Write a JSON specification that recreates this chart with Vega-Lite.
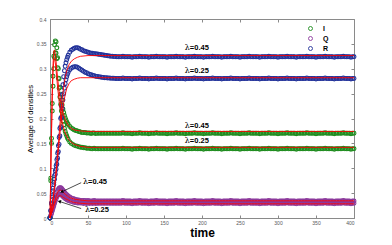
{
"$schema": "https://vega.github.io/schema/vega-lite/v6.json",
"width": 304, "height": 199,
"autosize": "none",
"padding": {"left": 50, "top": 19, "right": 38, "bottom": 27},
"background": "white",
"config": {
  "font": "Liberation Sans",
  "view": {"stroke": "#8a8a8a", "strokeWidth": 1},
  "axis": {"grid": false, "domainColor": "#8a8a8a", "tickColor": "#8a8a8a", "labelColor": "#555555", "labelFontSize": 5, "tickSize": -3, "labelPadding": 5, "titleColor": "#000000"}
},
"datasets": {
"obs": [
{"s":"Q","l":0.45,"t":0,"v":0},{"s":"Q","l":0.45,"t":1,"v":0.005},{"s":"Q","l":0.45,"t":2,"v":0.01},{"s":"Q","l":0.45,"t":3,"v":0.016},{"s":"Q","l":0.45,"t":4,"v":0.022},{"s":"Q","l":0.45,"t":5,"v":0.028},{"s":"Q","l":0.45,"t":6,"v":0.034},{"s":"Q","l":0.45,"t":7,"v":0.04},{"s":"Q","l":0.45,"t":8,"v":0.046},{"s":"Q","l":0.45,"t":9,"v":0.051},{"s":"Q","l":0.45,"t":10,"v":0.055},{"s":"Q","l":0.45,"t":11,"v":0.058},{"s":"Q","l":0.45,"t":12,"v":0.06},{"s":"Q","l":0.45,"t":13,"v":0.061},{"s":"Q","l":0.45,"t":14,"v":0.061},{"s":"Q","l":0.45,"t":15,"v":0.06},{"s":"Q","l":0.45,"t":16,"v":0.058},{"s":"Q","l":0.45,"t":17,"v":0.056},{"s":"Q","l":0.45,"t":18,"v":0.054},{"s":"Q","l":0.45,"t":19,"v":0.052},{"s":"Q","l":0.45,"t":20,"v":0.05},{"s":"Q","l":0.45,"t":21,"v":0.048},{"s":"Q","l":0.45,"t":22,"v":0.047},{"s":"Q","l":0.45,"t":23,"v":0.045},{"s":"Q","l":0.45,"t":24,"v":0.044},{"s":"Q","l":0.45,"t":26,"v":0.042},{"s":"Q","l":0.45,"t":28,"v":0.04},{"s":"Q","l":0.45,"t":30,"v":0.039},{"s":"Q","l":0.45,"t":32,"v":0.038},{"s":"Q","l":0.45,"t":34,"v":0.037},{"s":"Q","l":0.45,"t":36,"v":0.036},{"s":"Q","l":0.45,"t":38,"v":0.036},{"s":"Q","l":0.45,"t":40,"v":0.035},{"s":"Q","l":0.45,"t":42,"v":0.035},{"s":"Q","l":0.45,"t":44,"v":0.035},{"s":"Q","l":0.45,"t":46,"v":0.035},{"s":"Q","l":0.45,"t":48,"v":0.034},{"s":"Q","l":0.45,"t":50,"v":0.035},{"s":"Q","l":0.45,"t":52,"v":0.034},{"s":"Q","l":0.45,"t":54,"v":0.034},{"s":"Q","l":0.45,"t":56,"v":0.034},{"s":"Q","l":0.45,"t":58,"v":0.035},{"s":"Q","l":0.45,"t":60,"v":0.034},
{"s":"Q","l":0.45,"t":62,"v":0.034},{"s":"Q","l":0.45,"t":64,"v":0.034},{"s":"Q","l":0.45,"t":66,"v":0.034},{"s":"Q","l":0.45,"t":68,"v":0.034},{"s":"Q","l":0.45,"t":70,"v":0.034},{"s":"Q","l":0.45,"t":72,"v":0.034},{"s":"Q","l":0.45,"t":74,"v":0.034},{"s":"Q","l":0.45,"t":76,"v":0.034},{"s":"Q","l":0.45,"t":78,"v":0.034},{"s":"Q","l":0.45,"t":80,"v":0.034},
{"s":"Q","l":0.45,"t":82,"v":0.034},{"s":"Q","l":0.45,"t":84,"v":0.034},{"s":"Q","l":0.45,"t":86,"v":0.034},{"s":"Q","l":0.45,"t":88,"v":0.034},{"s":"Q","l":0.45,"t":90,"v":0.034},{"s":"Q","l":0.45,"t":92,"v":0.034},{"s":"Q","l":0.45,"t":94,"v":0.034},{"s":"Q","l":0.45,"t":96,"v":0.035},{"s":"Q","l":0.45,"t":98,"v":0.034},{"s":"Q","l":0.45,"t":100,"v":0.034},
{"s":"Q","l":0.45,"t":102,"v":0.034},{"s":"Q","l":0.45,"t":104,"v":0.034},{"s":"Q","l":0.45,"t":106,"v":0.034},{"s":"Q","l":0.45,"t":108,"v":0.033},{"s":"Q","l":0.45,"t":110,"v":0.034},{"s":"Q","l":0.45,"t":112,"v":0.034},{"s":"Q","l":0.45,"t":114,"v":0.034},{"s":"Q","l":0.45,"t":116,"v":0.034},{"s":"Q","l":0.45,"t":118,"v":0.035},{"s":"Q","l":0.45,"t":120,"v":0.034},
{"s":"Q","l":0.45,"t":122,"v":0.034},{"s":"Q","l":0.45,"t":124,"v":0.034},{"s":"Q","l":0.45,"t":126,"v":0.034},{"s":"Q","l":0.45,"t":128,"v":0.034},{"s":"Q","l":0.45,"t":130,"v":0.033},{"s":"Q","l":0.45,"t":132,"v":0.034},{"s":"Q","l":0.45,"t":134,"v":0.034},{"s":"Q","l":0.45,"t":136,"v":0.034},{"s":"Q","l":0.45,"t":138,"v":0.034},{"s":"Q","l":0.45,"t":140,"v":0.035},
{"s":"Q","l":0.45,"t":142,"v":0.034},{"s":"Q","l":0.45,"t":144,"v":0.034},{"s":"Q","l":0.45,"t":146,"v":0.034},{"s":"Q","l":0.45,"t":148,"v":0.034},{"s":"Q","l":0.45,"t":150,"v":0.034},{"s":"Q","l":0.45,"t":152,"v":0.034},{"s":"Q","l":0.45,"t":154,"v":0.033},{"s":"Q","l":0.45,"t":156,"v":0.034},{"s":"Q","l":0.45,"t":158,"v":0.034},{"s":"Q","l":0.45,"t":160,"v":0.034},
{"s":"Q","l":0.45,"t":162,"v":0.034},{"s":"Q","l":0.45,"t":164,"v":0.034},{"s":"Q","l":0.45,"t":166,"v":0.035},{"s":"Q","l":0.45,"t":168,"v":0.034},{"s":"Q","l":0.45,"t":170,"v":0.034},{"s":"Q","l":0.45,"t":172,"v":0.034},{"s":"Q","l":0.45,"t":174,"v":0.034},{"s":"Q","l":0.45,"t":176,"v":0.034},{"s":"Q","l":0.45,"t":178,"v":0.033},{"s":"Q","l":0.45,"t":180,"v":0.034},
{"s":"Q","l":0.45,"t":182,"v":0.034},{"s":"Q","l":0.45,"t":184,"v":0.034},{"s":"Q","l":0.45,"t":186,"v":0.034},{"s":"Q","l":0.45,"t":188,"v":0.034},{"s":"Q","l":0.45,"t":190,"v":0.035},{"s":"Q","l":0.45,"t":192,"v":0.034},{"s":"Q","l":0.45,"t":194,"v":0.034},{"s":"Q","l":0.45,"t":196,"v":0.034},{"s":"Q","l":0.45,"t":198,"v":0.034},{"s":"Q","l":0.45,"t":200,"v":0.034},
{"s":"Q","l":0.45,"t":202,"v":0.033},{"s":"Q","l":0.45,"t":204,"v":0.034},{"s":"Q","l":0.45,"t":206,"v":0.034},{"s":"Q","l":0.45,"t":208,"v":0.034},{"s":"Q","l":0.45,"t":210,"v":0.034},{"s":"Q","l":0.45,"t":212,"v":0.034},{"s":"Q","l":0.45,"t":214,"v":0.035},{"s":"Q","l":0.45,"t":216,"v":0.034},{"s":"Q","l":0.45,"t":218,"v":0.034},{"s":"Q","l":0.45,"t":220,"v":0.034},
{"s":"Q","l":0.45,"t":222,"v":0.034},{"s":"Q","l":0.45,"t":224,"v":0.034},{"s":"Q","l":0.45,"t":226,"v":0.033},{"s":"Q","l":0.45,"t":228,"v":0.034},{"s":"Q","l":0.45,"t":230,"v":0.034},{"s":"Q","l":0.45,"t":232,"v":0.034},{"s":"Q","l":0.45,"t":234,"v":0.034},{"s":"Q","l":0.45,"t":236,"v":0.034},{"s":"Q","l":0.45,"t":238,"v":0.035},{"s":"Q","l":0.45,"t":240,"v":0.034},
{"s":"Q","l":0.45,"t":242,"v":0.034},{"s":"Q","l":0.45,"t":244,"v":0.034},{"s":"Q","l":0.45,"t":246,"v":0.034},{"s":"Q","l":0.45,"t":248,"v":0.034},{"s":"Q","l":0.45,"t":250,"v":0.033},{"s":"Q","l":0.45,"t":252,"v":0.034},{"s":"Q","l":0.45,"t":254,"v":0.034},{"s":"Q","l":0.45,"t":256,"v":0.034},{"s":"Q","l":0.45,"t":258,"v":0.034},{"s":"Q","l":0.45,"t":260,"v":0.034},
{"s":"Q","l":0.45,"t":262,"v":0.035},{"s":"Q","l":0.45,"t":264,"v":0.034},{"s":"Q","l":0.45,"t":266,"v":0.034},{"s":"Q","l":0.45,"t":268,"v":0.034},{"s":"Q","l":0.45,"t":270,"v":0.034},{"s":"Q","l":0.45,"t":272,"v":0.034},{"s":"Q","l":0.45,"t":274,"v":0.034},{"s":"Q","l":0.45,"t":276,"v":0.033},{"s":"Q","l":0.45,"t":278,"v":0.034},{"s":"Q","l":0.45,"t":280,"v":0.034},
{"s":"Q","l":0.45,"t":282,"v":0.034},{"s":"Q","l":0.45,"t":284,"v":0.034},{"s":"Q","l":0.45,"t":286,"v":0.034},{"s":"Q","l":0.45,"t":288,"v":0.035},{"s":"Q","l":0.45,"t":290,"v":0.034},{"s":"Q","l":0.45,"t":292,"v":0.034},{"s":"Q","l":0.45,"t":294,"v":0.034},{"s":"Q","l":0.45,"t":296,"v":0.034},{"s":"Q","l":0.45,"t":298,"v":0.034},{"s":"Q","l":0.45,"t":300,"v":0.033},
{"s":"Q","l":0.45,"t":302,"v":0.034},{"s":"Q","l":0.45,"t":304,"v":0.034},{"s":"Q","l":0.45,"t":306,"v":0.034},{"s":"Q","l":0.45,"t":308,"v":0.034},{"s":"Q","l":0.45,"t":310,"v":0.034},{"s":"Q","l":0.45,"t":312,"v":0.035},{"s":"Q","l":0.45,"t":314,"v":0.034},{"s":"Q","l":0.45,"t":316,"v":0.034},{"s":"Q","l":0.45,"t":318,"v":0.034},{"s":"Q","l":0.45,"t":320,"v":0.034},
{"s":"Q","l":0.45,"t":322,"v":0.034},{"s":"Q","l":0.45,"t":324,"v":0.033},{"s":"Q","l":0.45,"t":326,"v":0.034},{"s":"Q","l":0.45,"t":328,"v":0.034},{"s":"Q","l":0.45,"t":330,"v":0.034},{"s":"Q","l":0.45,"t":332,"v":0.034},{"s":"Q","l":0.45,"t":334,"v":0.034},{"s":"Q","l":0.45,"t":336,"v":0.034},{"s":"Q","l":0.45,"t":338,"v":0.035},{"s":"Q","l":0.45,"t":340,"v":0.034},
{"s":"Q","l":0.45,"t":342,"v":0.034},{"s":"Q","l":0.45,"t":344,"v":0.034},{"s":"Q","l":0.45,"t":346,"v":0.034},{"s":"Q","l":0.45,"t":348,"v":0.034},{"s":"Q","l":0.45,"t":350,"v":0.033},{"s":"Q","l":0.45,"t":352,"v":0.034},{"s":"Q","l":0.45,"t":354,"v":0.034},{"s":"Q","l":0.45,"t":356,"v":0.034},{"s":"Q","l":0.45,"t":358,"v":0.034},{"s":"Q","l":0.45,"t":360,"v":0.034},
{"s":"Q","l":0.45,"t":362,"v":0.035},{"s":"Q","l":0.45,"t":364,"v":0.034},{"s":"Q","l":0.45,"t":366,"v":0.034},{"s":"Q","l":0.45,"t":368,"v":0.034},{"s":"Q","l":0.45,"t":370,"v":0.034},{"s":"Q","l":0.45,"t":372,"v":0.034},{"s":"Q","l":0.45,"t":374,"v":0.033},{"s":"Q","l":0.45,"t":376,"v":0.034},{"s":"Q","l":0.45,"t":378,"v":0.034},{"s":"Q","l":0.45,"t":380,"v":0.034},
{"s":"Q","l":0.45,"t":382,"v":0.034},{"s":"Q","l":0.45,"t":384,"v":0.034},{"s":"Q","l":0.45,"t":386,"v":0.035},{"s":"Q","l":0.45,"t":388,"v":0.034},{"s":"Q","l":0.45,"t":390,"v":0.034},{"s":"Q","l":0.45,"t":392,"v":0.034},{"s":"Q","l":0.45,"t":394,"v":0.034},{"s":"Q","l":0.45,"t":396,"v":0.033},{"s":"Q","l":0.45,"t":398,"v":0.034},{"s":"Q","l":0.45,"t":400,"v":0.034},
{"s":"Q","l":0.25,"t":0,"v":0},{"s":"Q","l":0.25,"t":1,"v":0.004},{"s":"Q","l":0.25,"t":2,"v":0.009},{"s":"Q","l":0.25,"t":3,"v":0.014},{"s":"Q","l":0.25,"t":4,"v":0.019},{"s":"Q","l":0.25,"t":5,"v":0.024},{"s":"Q","l":0.25,"t":6,"v":0.029},{"s":"Q","l":0.25,"t":7,"v":0.034},{"s":"Q","l":0.25,"t":8,"v":0.038},{"s":"Q","l":0.25,"t":9,"v":0.042},{"s":"Q","l":0.25,"t":10,"v":0.045},{"s":"Q","l":0.25,"t":11,"v":0.047},{"s":"Q","l":0.25,"t":12,"v":0.048},{"s":"Q","l":0.25,"t":13,"v":0.048},{"s":"Q","l":0.25,"t":14,"v":0.047},{"s":"Q","l":0.25,"t":15,"v":0.046},{"s":"Q","l":0.25,"t":16,"v":0.045},{"s":"Q","l":0.25,"t":17,"v":0.043},{"s":"Q","l":0.25,"t":18,"v":0.042},{"s":"Q","l":0.25,"t":19,"v":0.04},{"s":"Q","l":0.25,"t":20,"v":0.039},{"s":"Q","l":0.25,"t":21,"v":0.038},{"s":"Q","l":0.25,"t":22,"v":0.037},{"s":"Q","l":0.25,"t":23,"v":0.036},{"s":"Q","l":0.25,"t":24,"v":0.035},{"s":"Q","l":0.25,"t":26,"v":0.034},{"s":"Q","l":0.25,"t":28,"v":0.033},{"s":"Q","l":0.25,"t":30,"v":0.032},{"s":"Q","l":0.25,"t":32,"v":0.031},{"s":"Q","l":0.25,"t":34,"v":0.031},{"s":"Q","l":0.25,"t":36,"v":0.03},{"s":"Q","l":0.25,"t":38,"v":0.03},{"s":"Q","l":0.25,"t":40,"v":0.03},{"s":"Q","l":0.25,"t":42,"v":0.03},{"s":"Q","l":0.25,"t":44,"v":0.029},{"s":"Q","l":0.25,"t":46,"v":0.03},{"s":"Q","l":0.25,"t":48,"v":0.029},{"s":"Q","l":0.25,"t":50,"v":0.03},{"s":"Q","l":0.25,"t":52,"v":0.029},{"s":"Q","l":0.25,"t":54,"v":0.03},{"s":"Q","l":0.25,"t":56,"v":0.029},{"s":"Q","l":0.25,"t":58,"v":0.03},{"s":"Q","l":0.25,"t":60,"v":0.029},
{"s":"Q","l":0.25,"t":62,"v":0.0295},{"s":"Q","l":0.25,"t":64,"v":0.0295},{"s":"Q","l":0.25,"t":66,"v":0.0295},{"s":"Q","l":0.25,"t":68,"v":0.0295},{"s":"Q","l":0.25,"t":70,"v":0.0295},{"s":"Q","l":0.25,"t":72,"v":0.0295},{"s":"Q","l":0.25,"t":74,"v":0.0295},{"s":"Q","l":0.25,"t":76,"v":0.0295},{"s":"Q","l":0.25,"t":78,"v":0.0295},{"s":"Q","l":0.25,"t":80,"v":0.0295},
{"s":"Q","l":0.25,"t":82,"v":0.0295},{"s":"Q","l":0.25,"t":84,"v":0.0295},{"s":"Q","l":0.25,"t":86,"v":0.0295},{"s":"Q","l":0.25,"t":88,"v":0.0295},{"s":"Q","l":0.25,"t":90,"v":0.0295},{"s":"Q","l":0.25,"t":92,"v":0.0295},{"s":"Q","l":0.25,"t":94,"v":0.0295},{"s":"Q","l":0.25,"t":96,"v":0.0305},{"s":"Q","l":0.25,"t":98,"v":0.0295},{"s":"Q","l":0.25,"t":100,"v":0.0295},
{"s":"Q","l":0.25,"t":102,"v":0.0295},{"s":"Q","l":0.25,"t":104,"v":0.0295},{"s":"Q","l":0.25,"t":106,"v":0.0295},{"s":"Q","l":0.25,"t":108,"v":0.0285},{"s":"Q","l":0.25,"t":110,"v":0.0295},{"s":"Q","l":0.25,"t":112,"v":0.0295},{"s":"Q","l":0.25,"t":114,"v":0.0295},{"s":"Q","l":0.25,"t":116,"v":0.0295},{"s":"Q","l":0.25,"t":118,"v":0.0305},{"s":"Q","l":0.25,"t":120,"v":0.0295},
{"s":"Q","l":0.25,"t":122,"v":0.0295},{"s":"Q","l":0.25,"t":124,"v":0.0295},{"s":"Q","l":0.25,"t":126,"v":0.0295},{"s":"Q","l":0.25,"t":128,"v":0.0295},{"s":"Q","l":0.25,"t":130,"v":0.0285},{"s":"Q","l":0.25,"t":132,"v":0.0295},{"s":"Q","l":0.25,"t":134,"v":0.0295},{"s":"Q","l":0.25,"t":136,"v":0.0295},{"s":"Q","l":0.25,"t":138,"v":0.0295},{"s":"Q","l":0.25,"t":140,"v":0.0305},
{"s":"Q","l":0.25,"t":142,"v":0.0295},{"s":"Q","l":0.25,"t":144,"v":0.0295},{"s":"Q","l":0.25,"t":146,"v":0.0295},{"s":"Q","l":0.25,"t":148,"v":0.0295},{"s":"Q","l":0.25,"t":150,"v":0.0295},{"s":"Q","l":0.25,"t":152,"v":0.0295},{"s":"Q","l":0.25,"t":154,"v":0.0285},{"s":"Q","l":0.25,"t":156,"v":0.0295},{"s":"Q","l":0.25,"t":158,"v":0.0295},{"s":"Q","l":0.25,"t":160,"v":0.0295},
{"s":"Q","l":0.25,"t":162,"v":0.0295},{"s":"Q","l":0.25,"t":164,"v":0.0295},{"s":"Q","l":0.25,"t":166,"v":0.0305},{"s":"Q","l":0.25,"t":168,"v":0.0295},{"s":"Q","l":0.25,"t":170,"v":0.0295},{"s":"Q","l":0.25,"t":172,"v":0.0295},{"s":"Q","l":0.25,"t":174,"v":0.0295},{"s":"Q","l":0.25,"t":176,"v":0.0295},{"s":"Q","l":0.25,"t":178,"v":0.0285},{"s":"Q","l":0.25,"t":180,"v":0.0295},
{"s":"Q","l":0.25,"t":182,"v":0.0295},{"s":"Q","l":0.25,"t":184,"v":0.0295},{"s":"Q","l":0.25,"t":186,"v":0.0295},{"s":"Q","l":0.25,"t":188,"v":0.0295},{"s":"Q","l":0.25,"t":190,"v":0.0305},{"s":"Q","l":0.25,"t":192,"v":0.0295},{"s":"Q","l":0.25,"t":194,"v":0.0295},{"s":"Q","l":0.25,"t":196,"v":0.0295},{"s":"Q","l":0.25,"t":198,"v":0.0295},{"s":"Q","l":0.25,"t":200,"v":0.0295},
{"s":"Q","l":0.25,"t":202,"v":0.0285},{"s":"Q","l":0.25,"t":204,"v":0.0295},{"s":"Q","l":0.25,"t":206,"v":0.0295},{"s":"Q","l":0.25,"t":208,"v":0.0295},{"s":"Q","l":0.25,"t":210,"v":0.0295},{"s":"Q","l":0.25,"t":212,"v":0.0295},{"s":"Q","l":0.25,"t":214,"v":0.0305},{"s":"Q","l":0.25,"t":216,"v":0.0295},{"s":"Q","l":0.25,"t":218,"v":0.0295},{"s":"Q","l":0.25,"t":220,"v":0.0295},
{"s":"Q","l":0.25,"t":222,"v":0.0295},{"s":"Q","l":0.25,"t":224,"v":0.0295},{"s":"Q","l":0.25,"t":226,"v":0.0285},{"s":"Q","l":0.25,"t":228,"v":0.0295},{"s":"Q","l":0.25,"t":230,"v":0.0295},{"s":"Q","l":0.25,"t":232,"v":0.0295},{"s":"Q","l":0.25,"t":234,"v":0.0295},{"s":"Q","l":0.25,"t":236,"v":0.0295},{"s":"Q","l":0.25,"t":238,"v":0.0305},{"s":"Q","l":0.25,"t":240,"v":0.0295},
{"s":"Q","l":0.25,"t":242,"v":0.0295},{"s":"Q","l":0.25,"t":244,"v":0.0295},{"s":"Q","l":0.25,"t":246,"v":0.0295},{"s":"Q","l":0.25,"t":248,"v":0.0295},{"s":"Q","l":0.25,"t":250,"v":0.0285},{"s":"Q","l":0.25,"t":252,"v":0.0295},{"s":"Q","l":0.25,"t":254,"v":0.0295},{"s":"Q","l":0.25,"t":256,"v":0.0295},{"s":"Q","l":0.25,"t":258,"v":0.0295},{"s":"Q","l":0.25,"t":260,"v":0.0295},
{"s":"Q","l":0.25,"t":262,"v":0.0305},{"s":"Q","l":0.25,"t":264,"v":0.0295},{"s":"Q","l":0.25,"t":266,"v":0.0295},{"s":"Q","l":0.25,"t":268,"v":0.0295},{"s":"Q","l":0.25,"t":270,"v":0.0295},{"s":"Q","l":0.25,"t":272,"v":0.0295},{"s":"Q","l":0.25,"t":274,"v":0.0295},{"s":"Q","l":0.25,"t":276,"v":0.0285},{"s":"Q","l":0.25,"t":278,"v":0.0295},{"s":"Q","l":0.25,"t":280,"v":0.0295},
{"s":"Q","l":0.25,"t":282,"v":0.0295},{"s":"Q","l":0.25,"t":284,"v":0.0295},{"s":"Q","l":0.25,"t":286,"v":0.0295},{"s":"Q","l":0.25,"t":288,"v":0.0305},{"s":"Q","l":0.25,"t":290,"v":0.0295},{"s":"Q","l":0.25,"t":292,"v":0.0295},{"s":"Q","l":0.25,"t":294,"v":0.0295},{"s":"Q","l":0.25,"t":296,"v":0.0295},{"s":"Q","l":0.25,"t":298,"v":0.0295},{"s":"Q","l":0.25,"t":300,"v":0.0285},
{"s":"Q","l":0.25,"t":302,"v":0.0295},{"s":"Q","l":0.25,"t":304,"v":0.0295},{"s":"Q","l":0.25,"t":306,"v":0.0295},{"s":"Q","l":0.25,"t":308,"v":0.0295},{"s":"Q","l":0.25,"t":310,"v":0.0295},{"s":"Q","l":0.25,"t":312,"v":0.0305},{"s":"Q","l":0.25,"t":314,"v":0.0295},{"s":"Q","l":0.25,"t":316,"v":0.0295},{"s":"Q","l":0.25,"t":318,"v":0.0295},{"s":"Q","l":0.25,"t":320,"v":0.0295},
{"s":"Q","l":0.25,"t":322,"v":0.0295},{"s":"Q","l":0.25,"t":324,"v":0.0285},{"s":"Q","l":0.25,"t":326,"v":0.0295},{"s":"Q","l":0.25,"t":328,"v":0.0295},{"s":"Q","l":0.25,"t":330,"v":0.0295},{"s":"Q","l":0.25,"t":332,"v":0.0295},{"s":"Q","l":0.25,"t":334,"v":0.0295},{"s":"Q","l":0.25,"t":336,"v":0.0295},{"s":"Q","l":0.25,"t":338,"v":0.0305},{"s":"Q","l":0.25,"t":340,"v":0.0295},
{"s":"Q","l":0.25,"t":342,"v":0.0295},{"s":"Q","l":0.25,"t":344,"v":0.0295},{"s":"Q","l":0.25,"t":346,"v":0.0295},{"s":"Q","l":0.25,"t":348,"v":0.0295},{"s":"Q","l":0.25,"t":350,"v":0.0285},{"s":"Q","l":0.25,"t":352,"v":0.0295},{"s":"Q","l":0.25,"t":354,"v":0.0295},{"s":"Q","l":0.25,"t":356,"v":0.0295},{"s":"Q","l":0.25,"t":358,"v":0.0295},{"s":"Q","l":0.25,"t":360,"v":0.0295},
{"s":"Q","l":0.25,"t":362,"v":0.0305},{"s":"Q","l":0.25,"t":364,"v":0.0295},{"s":"Q","l":0.25,"t":366,"v":0.0295},{"s":"Q","l":0.25,"t":368,"v":0.0295},{"s":"Q","l":0.25,"t":370,"v":0.0295},{"s":"Q","l":0.25,"t":372,"v":0.0295},{"s":"Q","l":0.25,"t":374,"v":0.0285},{"s":"Q","l":0.25,"t":376,"v":0.0295},{"s":"Q","l":0.25,"t":378,"v":0.0295},{"s":"Q","l":0.25,"t":380,"v":0.0295},
{"s":"Q","l":0.25,"t":382,"v":0.0295},{"s":"Q","l":0.25,"t":384,"v":0.0295},{"s":"Q","l":0.25,"t":386,"v":0.0305},{"s":"Q","l":0.25,"t":388,"v":0.0295},{"s":"Q","l":0.25,"t":390,"v":0.0295},{"s":"Q","l":0.25,"t":392,"v":0.0295},{"s":"Q","l":0.25,"t":394,"v":0.0295},{"s":"Q","l":0.25,"t":396,"v":0.0285},{"s":"Q","l":0.25,"t":398,"v":0.0295},{"s":"Q","l":0.25,"t":400,"v":0.0295},
{"s":"I","l":0.45,"t":0,"v":0},{"s":"I","l":0.45,"t":1,"v":0.08},{"s":"I","l":0.45,"t":2,"v":0.16},{"s":"I","l":0.45,"t":3,"v":0.23},{"s":"I","l":0.45,"t":4,"v":0.285},{"s":"I","l":0.45,"t":5,"v":0.325},{"s":"I","l":0.45,"t":6,"v":0.348},{"s":"I","l":0.45,"t":7,"v":0.356},{"s":"I","l":0.45,"t":8,"v":0.354},{"s":"I","l":0.45,"t":9,"v":0.342},{"s":"I","l":0.45,"t":10,"v":0.322},{"s":"I","l":0.45,"t":11,"v":0.3},{"s":"I","l":0.45,"t":12,"v":0.28},{"s":"I","l":0.45,"t":13,"v":0.263},{"s":"I","l":0.45,"t":14,"v":0.249},{"s":"I","l":0.45,"t":15,"v":0.237},{"s":"I","l":0.45,"t":16,"v":0.227},{"s":"I","l":0.45,"t":17,"v":0.219},{"s":"I","l":0.45,"t":18,"v":0.212},{"s":"I","l":0.45,"t":19,"v":0.206},{"s":"I","l":0.45,"t":20,"v":0.201},{"s":"I","l":0.45,"t":21,"v":0.197},{"s":"I","l":0.45,"t":22,"v":0.193},{"s":"I","l":0.45,"t":23,"v":0.19},{"s":"I","l":0.45,"t":24,"v":0.188},{"s":"I","l":0.45,"t":26,"v":0.184},{"s":"I","l":0.45,"t":28,"v":0.181},{"s":"I","l":0.45,"t":30,"v":0.179},{"s":"I","l":0.45,"t":32,"v":0.177},{"s":"I","l":0.45,"t":34,"v":0.176},{"s":"I","l":0.45,"t":36,"v":0.175},{"s":"I","l":0.45,"t":38,"v":0.174},{"s":"I","l":0.45,"t":40,"v":0.173},{"s":"I","l":0.45,"t":42,"v":0.172},{"s":"I","l":0.45,"t":44,"v":0.172},{"s":"I","l":0.45,"t":46,"v":0.172},{"s":"I","l":0.45,"t":48,"v":0.171},{"s":"I","l":0.45,"t":50,"v":0.171},{"s":"I","l":0.45,"t":52,"v":0.171},{"s":"I","l":0.45,"t":54,"v":0.17},{"s":"I","l":0.45,"t":56,"v":0.171},{"s":"I","l":0.45,"t":58,"v":0.171},{"s":"I","l":0.45,"t":60,"v":0.17},
{"s":"I","l":0.45,"t":62,"v":0.1705},{"s":"I","l":0.45,"t":64,"v":0.1705},{"s":"I","l":0.45,"t":66,"v":0.1705},{"s":"I","l":0.45,"t":68,"v":0.1705},{"s":"I","l":0.45,"t":70,"v":0.1705},{"s":"I","l":0.45,"t":72,"v":0.1705},{"s":"I","l":0.45,"t":74,"v":0.1705},{"s":"I","l":0.45,"t":76,"v":0.1705},{"s":"I","l":0.45,"t":78,"v":0.1705},{"s":"I","l":0.45,"t":80,"v":0.1705},
{"s":"I","l":0.45,"t":82,"v":0.1705},{"s":"I","l":0.45,"t":84,"v":0.1705},{"s":"I","l":0.45,"t":86,"v":0.1705},{"s":"I","l":0.45,"t":88,"v":0.1705},{"s":"I","l":0.45,"t":90,"v":0.1705},{"s":"I","l":0.45,"t":92,"v":0.1705},{"s":"I","l":0.45,"t":94,"v":0.1705},{"s":"I","l":0.45,"t":96,"v":0.1715},{"s":"I","l":0.45,"t":98,"v":0.1705},{"s":"I","l":0.45,"t":100,"v":0.1705},
{"s":"I","l":0.45,"t":102,"v":0.1705},{"s":"I","l":0.45,"t":104,"v":0.1705},{"s":"I","l":0.45,"t":106,"v":0.1705},{"s":"I","l":0.45,"t":108,"v":0.1695},{"s":"I","l":0.45,"t":110,"v":0.1705},{"s":"I","l":0.45,"t":112,"v":0.1705},{"s":"I","l":0.45,"t":114,"v":0.1705},{"s":"I","l":0.45,"t":116,"v":0.1705},{"s":"I","l":0.45,"t":118,"v":0.1715},{"s":"I","l":0.45,"t":120,"v":0.1705},
{"s":"I","l":0.45,"t":122,"v":0.1705},{"s":"I","l":0.45,"t":124,"v":0.1705},{"s":"I","l":0.45,"t":126,"v":0.1705},{"s":"I","l":0.45,"t":128,"v":0.1705},{"s":"I","l":0.45,"t":130,"v":0.1695},{"s":"I","l":0.45,"t":132,"v":0.1705},{"s":"I","l":0.45,"t":134,"v":0.1705},{"s":"I","l":0.45,"t":136,"v":0.1705},{"s":"I","l":0.45,"t":138,"v":0.1705},{"s":"I","l":0.45,"t":140,"v":0.1715},
{"s":"I","l":0.45,"t":142,"v":0.1705},{"s":"I","l":0.45,"t":144,"v":0.1705},{"s":"I","l":0.45,"t":146,"v":0.1705},{"s":"I","l":0.45,"t":148,"v":0.1705},{"s":"I","l":0.45,"t":150,"v":0.1705},{"s":"I","l":0.45,"t":152,"v":0.1705},{"s":"I","l":0.45,"t":154,"v":0.1695},{"s":"I","l":0.45,"t":156,"v":0.1705},{"s":"I","l":0.45,"t":158,"v":0.1705},{"s":"I","l":0.45,"t":160,"v":0.1705},
{"s":"I","l":0.45,"t":162,"v":0.1705},{"s":"I","l":0.45,"t":164,"v":0.1705},{"s":"I","l":0.45,"t":166,"v":0.1715},{"s":"I","l":0.45,"t":168,"v":0.1705},{"s":"I","l":0.45,"t":170,"v":0.1705},{"s":"I","l":0.45,"t":172,"v":0.1705},{"s":"I","l":0.45,"t":174,"v":0.1705},{"s":"I","l":0.45,"t":176,"v":0.1705},{"s":"I","l":0.45,"t":178,"v":0.1695},{"s":"I","l":0.45,"t":180,"v":0.1705},
{"s":"I","l":0.45,"t":182,"v":0.1705},{"s":"I","l":0.45,"t":184,"v":0.1705},{"s":"I","l":0.45,"t":186,"v":0.1705},{"s":"I","l":0.45,"t":188,"v":0.1705},{"s":"I","l":0.45,"t":190,"v":0.1715},{"s":"I","l":0.45,"t":192,"v":0.1705},{"s":"I","l":0.45,"t":194,"v":0.1705},{"s":"I","l":0.45,"t":196,"v":0.1705},{"s":"I","l":0.45,"t":198,"v":0.1705},{"s":"I","l":0.45,"t":200,"v":0.1705},
{"s":"I","l":0.45,"t":202,"v":0.1695},{"s":"I","l":0.45,"t":204,"v":0.1705},{"s":"I","l":0.45,"t":206,"v":0.1705},{"s":"I","l":0.45,"t":208,"v":0.1705},{"s":"I","l":0.45,"t":210,"v":0.1705},{"s":"I","l":0.45,"t":212,"v":0.1705},{"s":"I","l":0.45,"t":214,"v":0.1715},{"s":"I","l":0.45,"t":216,"v":0.1705},{"s":"I","l":0.45,"t":218,"v":0.1705},{"s":"I","l":0.45,"t":220,"v":0.1705},
{"s":"I","l":0.45,"t":222,"v":0.1705},{"s":"I","l":0.45,"t":224,"v":0.1705},{"s":"I","l":0.45,"t":226,"v":0.1695},{"s":"I","l":0.45,"t":228,"v":0.1705},{"s":"I","l":0.45,"t":230,"v":0.1705},{"s":"I","l":0.45,"t":232,"v":0.1705},{"s":"I","l":0.45,"t":234,"v":0.1705},{"s":"I","l":0.45,"t":236,"v":0.1705},{"s":"I","l":0.45,"t":238,"v":0.1715},{"s":"I","l":0.45,"t":240,"v":0.1705},
{"s":"I","l":0.45,"t":242,"v":0.1705},{"s":"I","l":0.45,"t":244,"v":0.1705},{"s":"I","l":0.45,"t":246,"v":0.1705},{"s":"I","l":0.45,"t":248,"v":0.1705},{"s":"I","l":0.45,"t":250,"v":0.1695},{"s":"I","l":0.45,"t":252,"v":0.1705},{"s":"I","l":0.45,"t":254,"v":0.1705},{"s":"I","l":0.45,"t":256,"v":0.1705},{"s":"I","l":0.45,"t":258,"v":0.1705},{"s":"I","l":0.45,"t":260,"v":0.1705},
{"s":"I","l":0.45,"t":262,"v":0.1715},{"s":"I","l":0.45,"t":264,"v":0.1705},{"s":"I","l":0.45,"t":266,"v":0.1705},{"s":"I","l":0.45,"t":268,"v":0.1705},{"s":"I","l":0.45,"t":270,"v":0.1705},{"s":"I","l":0.45,"t":272,"v":0.1705},{"s":"I","l":0.45,"t":274,"v":0.1705},{"s":"I","l":0.45,"t":276,"v":0.1695},{"s":"I","l":0.45,"t":278,"v":0.1705},{"s":"I","l":0.45,"t":280,"v":0.1705},
{"s":"I","l":0.45,"t":282,"v":0.1705},{"s":"I","l":0.45,"t":284,"v":0.1705},{"s":"I","l":0.45,"t":286,"v":0.1705},{"s":"I","l":0.45,"t":288,"v":0.1715},{"s":"I","l":0.45,"t":290,"v":0.1705},{"s":"I","l":0.45,"t":292,"v":0.1705},{"s":"I","l":0.45,"t":294,"v":0.1705},{"s":"I","l":0.45,"t":296,"v":0.1705},{"s":"I","l":0.45,"t":298,"v":0.1705},{"s":"I","l":0.45,"t":300,"v":0.1695},
{"s":"I","l":0.45,"t":302,"v":0.1705},{"s":"I","l":0.45,"t":304,"v":0.1705},{"s":"I","l":0.45,"t":306,"v":0.1705},{"s":"I","l":0.45,"t":308,"v":0.1705},{"s":"I","l":0.45,"t":310,"v":0.1705},{"s":"I","l":0.45,"t":312,"v":0.1715},{"s":"I","l":0.45,"t":314,"v":0.1705},{"s":"I","l":0.45,"t":316,"v":0.1705},{"s":"I","l":0.45,"t":318,"v":0.1705},{"s":"I","l":0.45,"t":320,"v":0.1705},
{"s":"I","l":0.45,"t":322,"v":0.1705},{"s":"I","l":0.45,"t":324,"v":0.1695},{"s":"I","l":0.45,"t":326,"v":0.1705},{"s":"I","l":0.45,"t":328,"v":0.1705},{"s":"I","l":0.45,"t":330,"v":0.1705},{"s":"I","l":0.45,"t":332,"v":0.1705},{"s":"I","l":0.45,"t":334,"v":0.1705},{"s":"I","l":0.45,"t":336,"v":0.1705},{"s":"I","l":0.45,"t":338,"v":0.1715},{"s":"I","l":0.45,"t":340,"v":0.1705},
{"s":"I","l":0.45,"t":342,"v":0.1705},{"s":"I","l":0.45,"t":344,"v":0.1705},{"s":"I","l":0.45,"t":346,"v":0.1705},{"s":"I","l":0.45,"t":348,"v":0.1705},{"s":"I","l":0.45,"t":350,"v":0.1695},{"s":"I","l":0.45,"t":352,"v":0.1705},{"s":"I","l":0.45,"t":354,"v":0.1705},{"s":"I","l":0.45,"t":356,"v":0.1705},{"s":"I","l":0.45,"t":358,"v":0.1705},{"s":"I","l":0.45,"t":360,"v":0.1705},
{"s":"I","l":0.45,"t":362,"v":0.1715},{"s":"I","l":0.45,"t":364,"v":0.1705},{"s":"I","l":0.45,"t":366,"v":0.1705},{"s":"I","l":0.45,"t":368,"v":0.1705},{"s":"I","l":0.45,"t":370,"v":0.1705},{"s":"I","l":0.45,"t":372,"v":0.1705},{"s":"I","l":0.45,"t":374,"v":0.1695},{"s":"I","l":0.45,"t":376,"v":0.1705},{"s":"I","l":0.45,"t":378,"v":0.1705},{"s":"I","l":0.45,"t":380,"v":0.1705},
{"s":"I","l":0.45,"t":382,"v":0.1705},{"s":"I","l":0.45,"t":384,"v":0.1705},{"s":"I","l":0.45,"t":386,"v":0.1715},{"s":"I","l":0.45,"t":388,"v":0.1705},{"s":"I","l":0.45,"t":390,"v":0.1705},{"s":"I","l":0.45,"t":392,"v":0.1705},{"s":"I","l":0.45,"t":394,"v":0.1705},{"s":"I","l":0.45,"t":396,"v":0.1695},{"s":"I","l":0.45,"t":398,"v":0.1705},{"s":"I","l":0.45,"t":400,"v":0.1705},
{"s":"I","l":0.25,"t":0,"v":0},{"s":"I","l":0.25,"t":1,"v":0.075},{"s":"I","l":0.25,"t":2,"v":0.15},{"s":"I","l":0.25,"t":3,"v":0.215},{"s":"I","l":0.25,"t":4,"v":0.265},{"s":"I","l":0.25,"t":5,"v":0.3},{"s":"I","l":0.25,"t":6,"v":0.322},{"s":"I","l":0.25,"t":7,"v":0.332},{"s":"I","l":0.25,"t":8,"v":0.331},{"s":"I","l":0.25,"t":9,"v":0.32},{"s":"I","l":0.25,"t":10,"v":0.302},{"s":"I","l":0.25,"t":11,"v":0.281},{"s":"I","l":0.25,"t":12,"v":0.261},{"s":"I","l":0.25,"t":13,"v":0.243},{"s":"I","l":0.25,"t":14,"v":0.228},{"s":"I","l":0.25,"t":15,"v":0.215},{"s":"I","l":0.25,"t":16,"v":0.204},{"s":"I","l":0.25,"t":17,"v":0.195},{"s":"I","l":0.25,"t":18,"v":0.187},{"s":"I","l":0.25,"t":19,"v":0.18},{"s":"I","l":0.25,"t":20,"v":0.174},{"s":"I","l":0.25,"t":21,"v":0.169},{"s":"I","l":0.25,"t":22,"v":0.165},{"s":"I","l":0.25,"t":23,"v":0.161},{"s":"I","l":0.25,"t":24,"v":0.158},{"s":"I","l":0.25,"t":26,"v":0.153},{"s":"I","l":0.25,"t":28,"v":0.15},{"s":"I","l":0.25,"t":30,"v":0.148},{"s":"I","l":0.25,"t":32,"v":0.146},{"s":"I","l":0.25,"t":34,"v":0.145},{"s":"I","l":0.25,"t":36,"v":0.144},{"s":"I","l":0.25,"t":38,"v":0.143},{"s":"I","l":0.25,"t":40,"v":0.142},{"s":"I","l":0.25,"t":42,"v":0.142},{"s":"I","l":0.25,"t":44,"v":0.141},{"s":"I","l":0.25,"t":46,"v":0.141},{"s":"I","l":0.25,"t":48,"v":0.14},{"s":"I","l":0.25,"t":50,"v":0.14},{"s":"I","l":0.25,"t":52,"v":0.14},{"s":"I","l":0.25,"t":54,"v":0.139},{"s":"I","l":0.25,"t":56,"v":0.139},{"s":"I","l":0.25,"t":58,"v":0.14},{"s":"I","l":0.25,"t":60,"v":0.139},
{"s":"I","l":0.25,"t":62,"v":0.139},{"s":"I","l":0.25,"t":64,"v":0.139},{"s":"I","l":0.25,"t":66,"v":0.139},{"s":"I","l":0.25,"t":68,"v":0.139},{"s":"I","l":0.25,"t":70,"v":0.139},{"s":"I","l":0.25,"t":72,"v":0.139},{"s":"I","l":0.25,"t":74,"v":0.139},{"s":"I","l":0.25,"t":76,"v":0.139},{"s":"I","l":0.25,"t":78,"v":0.139},{"s":"I","l":0.25,"t":80,"v":0.139},
{"s":"I","l":0.25,"t":82,"v":0.139},{"s":"I","l":0.25,"t":84,"v":0.139},{"s":"I","l":0.25,"t":86,"v":0.139},{"s":"I","l":0.25,"t":88,"v":0.139},{"s":"I","l":0.25,"t":90,"v":0.139},{"s":"I","l":0.25,"t":92,"v":0.139},{"s":"I","l":0.25,"t":94,"v":0.139},{"s":"I","l":0.25,"t":96,"v":0.14},{"s":"I","l":0.25,"t":98,"v":0.139},{"s":"I","l":0.25,"t":100,"v":0.139},
{"s":"I","l":0.25,"t":102,"v":0.139},{"s":"I","l":0.25,"t":104,"v":0.139},{"s":"I","l":0.25,"t":106,"v":0.139},{"s":"I","l":0.25,"t":108,"v":0.138},{"s":"I","l":0.25,"t":110,"v":0.139},{"s":"I","l":0.25,"t":112,"v":0.139},{"s":"I","l":0.25,"t":114,"v":0.139},{"s":"I","l":0.25,"t":116,"v":0.139},{"s":"I","l":0.25,"t":118,"v":0.14},{"s":"I","l":0.25,"t":120,"v":0.139},
{"s":"I","l":0.25,"t":122,"v":0.139},{"s":"I","l":0.25,"t":124,"v":0.139},{"s":"I","l":0.25,"t":126,"v":0.139},{"s":"I","l":0.25,"t":128,"v":0.139},{"s":"I","l":0.25,"t":130,"v":0.138},{"s":"I","l":0.25,"t":132,"v":0.139},{"s":"I","l":0.25,"t":134,"v":0.139},{"s":"I","l":0.25,"t":136,"v":0.139},{"s":"I","l":0.25,"t":138,"v":0.139},{"s":"I","l":0.25,"t":140,"v":0.14},
{"s":"I","l":0.25,"t":142,"v":0.139},{"s":"I","l":0.25,"t":144,"v":0.139},{"s":"I","l":0.25,"t":146,"v":0.139},{"s":"I","l":0.25,"t":148,"v":0.139},{"s":"I","l":0.25,"t":150,"v":0.139},{"s":"I","l":0.25,"t":152,"v":0.139},{"s":"I","l":0.25,"t":154,"v":0.138},{"s":"I","l":0.25,"t":156,"v":0.139},{"s":"I","l":0.25,"t":158,"v":0.139},{"s":"I","l":0.25,"t":160,"v":0.139},
{"s":"I","l":0.25,"t":162,"v":0.139},{"s":"I","l":0.25,"t":164,"v":0.139},{"s":"I","l":0.25,"t":166,"v":0.14},{"s":"I","l":0.25,"t":168,"v":0.139},{"s":"I","l":0.25,"t":170,"v":0.139},{"s":"I","l":0.25,"t":172,"v":0.139},{"s":"I","l":0.25,"t":174,"v":0.139},{"s":"I","l":0.25,"t":176,"v":0.139},{"s":"I","l":0.25,"t":178,"v":0.138},{"s":"I","l":0.25,"t":180,"v":0.139},
{"s":"I","l":0.25,"t":182,"v":0.139},{"s":"I","l":0.25,"t":184,"v":0.139},{"s":"I","l":0.25,"t":186,"v":0.139},{"s":"I","l":0.25,"t":188,"v":0.139},{"s":"I","l":0.25,"t":190,"v":0.14},{"s":"I","l":0.25,"t":192,"v":0.139},{"s":"I","l":0.25,"t":194,"v":0.139},{"s":"I","l":0.25,"t":196,"v":0.139},{"s":"I","l":0.25,"t":198,"v":0.139},{"s":"I","l":0.25,"t":200,"v":0.139},
{"s":"I","l":0.25,"t":202,"v":0.138},{"s":"I","l":0.25,"t":204,"v":0.139},{"s":"I","l":0.25,"t":206,"v":0.139},{"s":"I","l":0.25,"t":208,"v":0.139},{"s":"I","l":0.25,"t":210,"v":0.139},{"s":"I","l":0.25,"t":212,"v":0.139},{"s":"I","l":0.25,"t":214,"v":0.14},{"s":"I","l":0.25,"t":216,"v":0.139},{"s":"I","l":0.25,"t":218,"v":0.139},{"s":"I","l":0.25,"t":220,"v":0.139},
{"s":"I","l":0.25,"t":222,"v":0.139},{"s":"I","l":0.25,"t":224,"v":0.139},{"s":"I","l":0.25,"t":226,"v":0.138},{"s":"I","l":0.25,"t":228,"v":0.139},{"s":"I","l":0.25,"t":230,"v":0.139},{"s":"I","l":0.25,"t":232,"v":0.139},{"s":"I","l":0.25,"t":234,"v":0.139},{"s":"I","l":0.25,"t":236,"v":0.139},{"s":"I","l":0.25,"t":238,"v":0.14},{"s":"I","l":0.25,"t":240,"v":0.139},
{"s":"I","l":0.25,"t":242,"v":0.139},{"s":"I","l":0.25,"t":244,"v":0.139},{"s":"I","l":0.25,"t":246,"v":0.139},{"s":"I","l":0.25,"t":248,"v":0.139},{"s":"I","l":0.25,"t":250,"v":0.138},{"s":"I","l":0.25,"t":252,"v":0.139},{"s":"I","l":0.25,"t":254,"v":0.139},{"s":"I","l":0.25,"t":256,"v":0.139},{"s":"I","l":0.25,"t":258,"v":0.139},{"s":"I","l":0.25,"t":260,"v":0.139},
{"s":"I","l":0.25,"t":262,"v":0.14},{"s":"I","l":0.25,"t":264,"v":0.139},{"s":"I","l":0.25,"t":266,"v":0.139},{"s":"I","l":0.25,"t":268,"v":0.139},{"s":"I","l":0.25,"t":270,"v":0.139},{"s":"I","l":0.25,"t":272,"v":0.139},{"s":"I","l":0.25,"t":274,"v":0.139},{"s":"I","l":0.25,"t":276,"v":0.138},{"s":"I","l":0.25,"t":278,"v":0.139},{"s":"I","l":0.25,"t":280,"v":0.139},
{"s":"I","l":0.25,"t":282,"v":0.139},{"s":"I","l":0.25,"t":284,"v":0.139},{"s":"I","l":0.25,"t":286,"v":0.139},{"s":"I","l":0.25,"t":288,"v":0.14},{"s":"I","l":0.25,"t":290,"v":0.139},{"s":"I","l":0.25,"t":292,"v":0.139},{"s":"I","l":0.25,"t":294,"v":0.139},{"s":"I","l":0.25,"t":296,"v":0.139},{"s":"I","l":0.25,"t":298,"v":0.139},{"s":"I","l":0.25,"t":300,"v":0.138},
{"s":"I","l":0.25,"t":302,"v":0.139},{"s":"I","l":0.25,"t":304,"v":0.139},{"s":"I","l":0.25,"t":306,"v":0.139},{"s":"I","l":0.25,"t":308,"v":0.139},{"s":"I","l":0.25,"t":310,"v":0.139},{"s":"I","l":0.25,"t":312,"v":0.14},{"s":"I","l":0.25,"t":314,"v":0.139},{"s":"I","l":0.25,"t":316,"v":0.139},{"s":"I","l":0.25,"t":318,"v":0.139},{"s":"I","l":0.25,"t":320,"v":0.139},
{"s":"I","l":0.25,"t":322,"v":0.139},{"s":"I","l":0.25,"t":324,"v":0.138},{"s":"I","l":0.25,"t":326,"v":0.139},{"s":"I","l":0.25,"t":328,"v":0.139},{"s":"I","l":0.25,"t":330,"v":0.139},{"s":"I","l":0.25,"t":332,"v":0.139},{"s":"I","l":0.25,"t":334,"v":0.139},{"s":"I","l":0.25,"t":336,"v":0.139},{"s":"I","l":0.25,"t":338,"v":0.14},{"s":"I","l":0.25,"t":340,"v":0.139},
{"s":"I","l":0.25,"t":342,"v":0.139},{"s":"I","l":0.25,"t":344,"v":0.139},{"s":"I","l":0.25,"t":346,"v":0.139},{"s":"I","l":0.25,"t":348,"v":0.139},{"s":"I","l":0.25,"t":350,"v":0.138},{"s":"I","l":0.25,"t":352,"v":0.139},{"s":"I","l":0.25,"t":354,"v":0.139},{"s":"I","l":0.25,"t":356,"v":0.139},{"s":"I","l":0.25,"t":358,"v":0.139},{"s":"I","l":0.25,"t":360,"v":0.139},
{"s":"I","l":0.25,"t":362,"v":0.14},{"s":"I","l":0.25,"t":364,"v":0.139},{"s":"I","l":0.25,"t":366,"v":0.139},{"s":"I","l":0.25,"t":368,"v":0.139},{"s":"I","l":0.25,"t":370,"v":0.139},{"s":"I","l":0.25,"t":372,"v":0.139},{"s":"I","l":0.25,"t":374,"v":0.138},{"s":"I","l":0.25,"t":376,"v":0.139},{"s":"I","l":0.25,"t":378,"v":0.139},{"s":"I","l":0.25,"t":380,"v":0.139},
{"s":"I","l":0.25,"t":382,"v":0.139},{"s":"I","l":0.25,"t":384,"v":0.139},{"s":"I","l":0.25,"t":386,"v":0.14},{"s":"I","l":0.25,"t":388,"v":0.139},{"s":"I","l":0.25,"t":390,"v":0.139},{"s":"I","l":0.25,"t":392,"v":0.139},{"s":"I","l":0.25,"t":394,"v":0.139},{"s":"I","l":0.25,"t":396,"v":0.138},{"s":"I","l":0.25,"t":398,"v":0.139},{"s":"I","l":0.25,"t":400,"v":0.139},
{"s":"R","l":0.45,"t":0,"v":0},{"s":"R","l":0.45,"t":1,"v":0.015},{"s":"R","l":0.45,"t":2,"v":0.03},{"s":"R","l":0.45,"t":3,"v":0.045},{"s":"R","l":0.45,"t":4,"v":0.06},{"s":"R","l":0.45,"t":5,"v":0.072},{"s":"R","l":0.45,"t":6,"v":0.085},{"s":"R","l":0.45,"t":7,"v":0.095},{"s":"R","l":0.45,"t":8,"v":0.105},{"s":"R","l":0.45,"t":9,"v":0.117},{"s":"R","l":0.45,"t":10,"v":0.13},{"s":"R","l":0.45,"t":11,"v":0.145},{"s":"R","l":0.45,"t":12,"v":0.162},{"s":"R","l":0.45,"t":13,"v":0.18},{"s":"R","l":0.45,"t":14,"v":0.2},{"s":"R","l":0.45,"t":15,"v":0.225},{"s":"R","l":0.45,"t":16,"v":0.248},{"s":"R","l":0.45,"t":17,"v":0.268},{"s":"R","l":0.45,"t":18,"v":0.284},{"s":"R","l":0.45,"t":19,"v":0.296},{"s":"R","l":0.45,"t":20,"v":0.305},{"s":"R","l":0.45,"t":21,"v":0.312},{"s":"R","l":0.45,"t":22,"v":0.318},{"s":"R","l":0.45,"t":23,"v":0.323},{"s":"R","l":0.45,"t":24,"v":0.327},{"s":"R","l":0.45,"t":26,"v":0.333},{"s":"R","l":0.45,"t":28,"v":0.337},{"s":"R","l":0.45,"t":30,"v":0.339},{"s":"R","l":0.45,"t":32,"v":0.341},{"s":"R","l":0.45,"t":34,"v":0.342},{"s":"R","l":0.45,"t":36,"v":0.342},{"s":"R","l":0.45,"t":38,"v":0.341},{"s":"R","l":0.45,"t":40,"v":0.339},{"s":"R","l":0.45,"t":42,"v":0.338},{"s":"R","l":0.45,"t":44,"v":0.336},{"s":"R","l":0.45,"t":46,"v":0.335},{"s":"R","l":0.45,"t":48,"v":0.334},{"s":"R","l":0.45,"t":50,"v":0.333},{"s":"R","l":0.45,"t":52,"v":0.332},{"s":"R","l":0.45,"t":54,"v":0.331},{"s":"R","l":0.45,"t":56,"v":0.331},{"s":"R","l":0.45,"t":58,"v":0.33},{"s":"R","l":0.45,"t":60,"v":0.33},
{"s":"R","l":0.45,"t":62,"v":0.3295},{"s":"R","l":0.45,"t":64,"v":0.329},{"s":"R","l":0.45,"t":66,"v":0.3285},{"s":"R","l":0.45,"t":68,"v":0.328},{"s":"R","l":0.45,"t":70,"v":0.3275},{"s":"R","l":0.45,"t":72,"v":0.327},{"s":"R","l":0.45,"t":74,"v":0.3265},{"s":"R","l":0.45,"t":76,"v":0.326},{"s":"R","l":0.45,"t":78,"v":0.3255},{"s":"R","l":0.45,"t":80,"v":0.325},
{"s":"R","l":0.45,"t":82,"v":0.325},{"s":"R","l":0.45,"t":84,"v":0.3245},{"s":"R","l":0.45,"t":86,"v":0.3245},{"s":"R","l":0.45,"t":88,"v":0.324},{"s":"R","l":0.45,"t":90,"v":0.324},{"s":"R","l":0.45,"t":92,"v":0.324},{"s":"R","l":0.45,"t":94,"v":0.324},{"s":"R","l":0.45,"t":96,"v":0.325},{"s":"R","l":0.45,"t":98,"v":0.324},{"s":"R","l":0.45,"t":100,"v":0.324},
{"s":"R","l":0.45,"t":102,"v":0.324},{"s":"R","l":0.45,"t":104,"v":0.324},{"s":"R","l":0.45,"t":106,"v":0.324},{"s":"R","l":0.45,"t":108,"v":0.323},{"s":"R","l":0.45,"t":110,"v":0.324},{"s":"R","l":0.45,"t":112,"v":0.324},{"s":"R","l":0.45,"t":114,"v":0.324},{"s":"R","l":0.45,"t":116,"v":0.324},{"s":"R","l":0.45,"t":118,"v":0.325},{"s":"R","l":0.45,"t":120,"v":0.324},
{"s":"R","l":0.45,"t":122,"v":0.324},{"s":"R","l":0.45,"t":124,"v":0.324},{"s":"R","l":0.45,"t":126,"v":0.324},{"s":"R","l":0.45,"t":128,"v":0.324},{"s":"R","l":0.45,"t":130,"v":0.323},{"s":"R","l":0.45,"t":132,"v":0.324},{"s":"R","l":0.45,"t":134,"v":0.324},{"s":"R","l":0.45,"t":136,"v":0.324},{"s":"R","l":0.45,"t":138,"v":0.324},{"s":"R","l":0.45,"t":140,"v":0.325},
{"s":"R","l":0.45,"t":142,"v":0.324},{"s":"R","l":0.45,"t":144,"v":0.324},{"s":"R","l":0.45,"t":146,"v":0.324},{"s":"R","l":0.45,"t":148,"v":0.324},{"s":"R","l":0.45,"t":150,"v":0.324},{"s":"R","l":0.45,"t":152,"v":0.324},{"s":"R","l":0.45,"t":154,"v":0.323},{"s":"R","l":0.45,"t":156,"v":0.324},{"s":"R","l":0.45,"t":158,"v":0.324},{"s":"R","l":0.45,"t":160,"v":0.324},
{"s":"R","l":0.45,"t":162,"v":0.324},{"s":"R","l":0.45,"t":164,"v":0.324},{"s":"R","l":0.45,"t":166,"v":0.325},{"s":"R","l":0.45,"t":168,"v":0.324},{"s":"R","l":0.45,"t":170,"v":0.324},{"s":"R","l":0.45,"t":172,"v":0.324},{"s":"R","l":0.45,"t":174,"v":0.324},{"s":"R","l":0.45,"t":176,"v":0.324},{"s":"R","l":0.45,"t":178,"v":0.323},{"s":"R","l":0.45,"t":180,"v":0.324},
{"s":"R","l":0.45,"t":182,"v":0.324},{"s":"R","l":0.45,"t":184,"v":0.324},{"s":"R","l":0.45,"t":186,"v":0.324},{"s":"R","l":0.45,"t":188,"v":0.324},{"s":"R","l":0.45,"t":190,"v":0.325},{"s":"R","l":0.45,"t":192,"v":0.324},{"s":"R","l":0.45,"t":194,"v":0.324},{"s":"R","l":0.45,"t":196,"v":0.324},{"s":"R","l":0.45,"t":198,"v":0.324},{"s":"R","l":0.45,"t":200,"v":0.324},
{"s":"R","l":0.45,"t":202,"v":0.323},{"s":"R","l":0.45,"t":204,"v":0.324},{"s":"R","l":0.45,"t":206,"v":0.324},{"s":"R","l":0.45,"t":208,"v":0.324},{"s":"R","l":0.45,"t":210,"v":0.324},{"s":"R","l":0.45,"t":212,"v":0.324},{"s":"R","l":0.45,"t":214,"v":0.325},{"s":"R","l":0.45,"t":216,"v":0.324},{"s":"R","l":0.45,"t":218,"v":0.324},{"s":"R","l":0.45,"t":220,"v":0.324},
{"s":"R","l":0.45,"t":222,"v":0.324},{"s":"R","l":0.45,"t":224,"v":0.324},{"s":"R","l":0.45,"t":226,"v":0.323},{"s":"R","l":0.45,"t":228,"v":0.324},{"s":"R","l":0.45,"t":230,"v":0.324},{"s":"R","l":0.45,"t":232,"v":0.324},{"s":"R","l":0.45,"t":234,"v":0.324},{"s":"R","l":0.45,"t":236,"v":0.324},{"s":"R","l":0.45,"t":238,"v":0.325},{"s":"R","l":0.45,"t":240,"v":0.324},
{"s":"R","l":0.45,"t":242,"v":0.324},{"s":"R","l":0.45,"t":244,"v":0.324},{"s":"R","l":0.45,"t":246,"v":0.324},{"s":"R","l":0.45,"t":248,"v":0.324},{"s":"R","l":0.45,"t":250,"v":0.323},{"s":"R","l":0.45,"t":252,"v":0.324},{"s":"R","l":0.45,"t":254,"v":0.324},{"s":"R","l":0.45,"t":256,"v":0.324},{"s":"R","l":0.45,"t":258,"v":0.324},{"s":"R","l":0.45,"t":260,"v":0.324},
{"s":"R","l":0.45,"t":262,"v":0.325},{"s":"R","l":0.45,"t":264,"v":0.324},{"s":"R","l":0.45,"t":266,"v":0.324},{"s":"R","l":0.45,"t":268,"v":0.324},{"s":"R","l":0.45,"t":270,"v":0.324},{"s":"R","l":0.45,"t":272,"v":0.324},{"s":"R","l":0.45,"t":274,"v":0.324},{"s":"R","l":0.45,"t":276,"v":0.323},{"s":"R","l":0.45,"t":278,"v":0.324},{"s":"R","l":0.45,"t":280,"v":0.324},
{"s":"R","l":0.45,"t":282,"v":0.324},{"s":"R","l":0.45,"t":284,"v":0.324},{"s":"R","l":0.45,"t":286,"v":0.324},{"s":"R","l":0.45,"t":288,"v":0.325},{"s":"R","l":0.45,"t":290,"v":0.324},{"s":"R","l":0.45,"t":292,"v":0.324},{"s":"R","l":0.45,"t":294,"v":0.324},{"s":"R","l":0.45,"t":296,"v":0.324},{"s":"R","l":0.45,"t":298,"v":0.324},{"s":"R","l":0.45,"t":300,"v":0.323},
{"s":"R","l":0.45,"t":302,"v":0.324},{"s":"R","l":0.45,"t":304,"v":0.324},{"s":"R","l":0.45,"t":306,"v":0.324},{"s":"R","l":0.45,"t":308,"v":0.324},{"s":"R","l":0.45,"t":310,"v":0.324},{"s":"R","l":0.45,"t":312,"v":0.325},{"s":"R","l":0.45,"t":314,"v":0.324},{"s":"R","l":0.45,"t":316,"v":0.324},{"s":"R","l":0.45,"t":318,"v":0.324},{"s":"R","l":0.45,"t":320,"v":0.324},
{"s":"R","l":0.45,"t":322,"v":0.324},{"s":"R","l":0.45,"t":324,"v":0.323},{"s":"R","l":0.45,"t":326,"v":0.324},{"s":"R","l":0.45,"t":328,"v":0.324},{"s":"R","l":0.45,"t":330,"v":0.324},{"s":"R","l":0.45,"t":332,"v":0.324},{"s":"R","l":0.45,"t":334,"v":0.324},{"s":"R","l":0.45,"t":336,"v":0.324},{"s":"R","l":0.45,"t":338,"v":0.325},{"s":"R","l":0.45,"t":340,"v":0.324},
{"s":"R","l":0.45,"t":342,"v":0.324},{"s":"R","l":0.45,"t":344,"v":0.324},{"s":"R","l":0.45,"t":346,"v":0.324},{"s":"R","l":0.45,"t":348,"v":0.324},{"s":"R","l":0.45,"t":350,"v":0.323},{"s":"R","l":0.45,"t":352,"v":0.324},{"s":"R","l":0.45,"t":354,"v":0.324},{"s":"R","l":0.45,"t":356,"v":0.324},{"s":"R","l":0.45,"t":358,"v":0.324},{"s":"R","l":0.45,"t":360,"v":0.324},
{"s":"R","l":0.45,"t":362,"v":0.325},{"s":"R","l":0.45,"t":364,"v":0.324},{"s":"R","l":0.45,"t":366,"v":0.324},{"s":"R","l":0.45,"t":368,"v":0.324},{"s":"R","l":0.45,"t":370,"v":0.324},{"s":"R","l":0.45,"t":372,"v":0.324},{"s":"R","l":0.45,"t":374,"v":0.323},{"s":"R","l":0.45,"t":376,"v":0.324},{"s":"R","l":0.45,"t":378,"v":0.324},{"s":"R","l":0.45,"t":380,"v":0.324},
{"s":"R","l":0.45,"t":382,"v":0.324},{"s":"R","l":0.45,"t":384,"v":0.324},{"s":"R","l":0.45,"t":386,"v":0.325},{"s":"R","l":0.45,"t":388,"v":0.324},{"s":"R","l":0.45,"t":390,"v":0.324},{"s":"R","l":0.45,"t":392,"v":0.324},{"s":"R","l":0.45,"t":394,"v":0.324},{"s":"R","l":0.45,"t":396,"v":0.323},{"s":"R","l":0.45,"t":398,"v":0.324},{"s":"R","l":0.45,"t":400,"v":0.324},
{"s":"R","l":0.25,"t":0,"v":0},{"s":"R","l":0.25,"t":1,"v":0.014},{"s":"R","l":0.25,"t":2,"v":0.028},{"s":"R","l":0.25,"t":3,"v":0.042},{"s":"R","l":0.25,"t":4,"v":0.055},{"s":"R","l":0.25,"t":5,"v":0.067},{"s":"R","l":0.25,"t":6,"v":0.078},{"s":"R","l":0.25,"t":7,"v":0.088},{"s":"R","l":0.25,"t":8,"v":0.098},{"s":"R","l":0.25,"t":9,"v":0.108},{"s":"R","l":0.25,"t":10,"v":0.12},{"s":"R","l":0.25,"t":11,"v":0.133},{"s":"R","l":0.25,"t":12,"v":0.148},{"s":"R","l":0.25,"t":13,"v":0.165},{"s":"R","l":0.25,"t":14,"v":0.183},{"s":"R","l":0.25,"t":15,"v":0.202},{"s":"R","l":0.25,"t":16,"v":0.22},{"s":"R","l":0.25,"t":17,"v":0.237},{"s":"R","l":0.25,"t":18,"v":0.25},{"s":"R","l":0.25,"t":19,"v":0.261},{"s":"R","l":0.25,"t":20,"v":0.27},{"s":"R","l":0.25,"t":21,"v":0.278},{"s":"R","l":0.25,"t":22,"v":0.284},{"s":"R","l":0.25,"t":23,"v":0.289},{"s":"R","l":0.25,"t":24,"v":0.293},{"s":"R","l":0.25,"t":26,"v":0.298},{"s":"R","l":0.25,"t":28,"v":0.301},{"s":"R","l":0.25,"t":30,"v":0.303},{"s":"R","l":0.25,"t":32,"v":0.304},{"s":"R","l":0.25,"t":34,"v":0.304},{"s":"R","l":0.25,"t":36,"v":0.303},{"s":"R","l":0.25,"t":38,"v":0.301},{"s":"R","l":0.25,"t":40,"v":0.299},{"s":"R","l":0.25,"t":42,"v":0.297},{"s":"R","l":0.25,"t":44,"v":0.295},{"s":"R","l":0.25,"t":46,"v":0.293},{"s":"R","l":0.25,"t":48,"v":0.292},{"s":"R","l":0.25,"t":50,"v":0.29},{"s":"R","l":0.25,"t":52,"v":0.289},{"s":"R","l":0.25,"t":54,"v":0.288},{"s":"R","l":0.25,"t":56,"v":0.287},{"s":"R","l":0.25,"t":58,"v":0.286},{"s":"R","l":0.25,"t":60,"v":0.285},
{"s":"R","l":0.25,"t":62,"v":0.2845},{"s":"R","l":0.25,"t":64,"v":0.284},{"s":"R","l":0.25,"t":66,"v":0.2835},{"s":"R","l":0.25,"t":68,"v":0.283},{"s":"R","l":0.25,"t":70,"v":0.2825},{"s":"R","l":0.25,"t":72,"v":0.282},{"s":"R","l":0.25,"t":74,"v":0.282},{"s":"R","l":0.25,"t":76,"v":0.2815},{"s":"R","l":0.25,"t":78,"v":0.2815},{"s":"R","l":0.25,"t":80,"v":0.281},
{"s":"R","l":0.25,"t":82,"v":0.281},{"s":"R","l":0.25,"t":84,"v":0.281},{"s":"R","l":0.25,"t":86,"v":0.2805},{"s":"R","l":0.25,"t":88,"v":0.2805},{"s":"R","l":0.25,"t":90,"v":0.2805},{"s":"R","l":0.25,"t":92,"v":0.2805},{"s":"R","l":0.25,"t":94,"v":0.2805},{"s":"R","l":0.25,"t":96,"v":0.2815},{"s":"R","l":0.25,"t":98,"v":0.2805},{"s":"R","l":0.25,"t":100,"v":0.2805},
{"s":"R","l":0.25,"t":102,"v":0.2805},{"s":"R","l":0.25,"t":104,"v":0.2805},{"s":"R","l":0.25,"t":106,"v":0.2805},{"s":"R","l":0.25,"t":108,"v":0.2795},{"s":"R","l":0.25,"t":110,"v":0.2805},{"s":"R","l":0.25,"t":112,"v":0.2805},{"s":"R","l":0.25,"t":114,"v":0.2805},{"s":"R","l":0.25,"t":116,"v":0.2805},{"s":"R","l":0.25,"t":118,"v":0.2815},{"s":"R","l":0.25,"t":120,"v":0.2805},
{"s":"R","l":0.25,"t":122,"v":0.2805},{"s":"R","l":0.25,"t":124,"v":0.2805},{"s":"R","l":0.25,"t":126,"v":0.2805},{"s":"R","l":0.25,"t":128,"v":0.2805},{"s":"R","l":0.25,"t":130,"v":0.2795},{"s":"R","l":0.25,"t":132,"v":0.2805},{"s":"R","l":0.25,"t":134,"v":0.2805},{"s":"R","l":0.25,"t":136,"v":0.2805},{"s":"R","l":0.25,"t":138,"v":0.2805},{"s":"R","l":0.25,"t":140,"v":0.2815},
{"s":"R","l":0.25,"t":142,"v":0.2805},{"s":"R","l":0.25,"t":144,"v":0.2805},{"s":"R","l":0.25,"t":146,"v":0.2805},{"s":"R","l":0.25,"t":148,"v":0.2805},{"s":"R","l":0.25,"t":150,"v":0.2805},{"s":"R","l":0.25,"t":152,"v":0.2805},{"s":"R","l":0.25,"t":154,"v":0.2795},{"s":"R","l":0.25,"t":156,"v":0.2805},{"s":"R","l":0.25,"t":158,"v":0.2805},{"s":"R","l":0.25,"t":160,"v":0.2805},
{"s":"R","l":0.25,"t":162,"v":0.2805},{"s":"R","l":0.25,"t":164,"v":0.2805},{"s":"R","l":0.25,"t":166,"v":0.2815},{"s":"R","l":0.25,"t":168,"v":0.2805},{"s":"R","l":0.25,"t":170,"v":0.2805},{"s":"R","l":0.25,"t":172,"v":0.2805},{"s":"R","l":0.25,"t":174,"v":0.2805},{"s":"R","l":0.25,"t":176,"v":0.2805},{"s":"R","l":0.25,"t":178,"v":0.2795},{"s":"R","l":0.25,"t":180,"v":0.2805},
{"s":"R","l":0.25,"t":182,"v":0.2805},{"s":"R","l":0.25,"t":184,"v":0.2805},{"s":"R","l":0.25,"t":186,"v":0.2805},{"s":"R","l":0.25,"t":188,"v":0.2805},{"s":"R","l":0.25,"t":190,"v":0.2815},{"s":"R","l":0.25,"t":192,"v":0.2805},{"s":"R","l":0.25,"t":194,"v":0.2805},{"s":"R","l":0.25,"t":196,"v":0.2805},{"s":"R","l":0.25,"t":198,"v":0.2805},{"s":"R","l":0.25,"t":200,"v":0.2805},
{"s":"R","l":0.25,"t":202,"v":0.2795},{"s":"R","l":0.25,"t":204,"v":0.2805},{"s":"R","l":0.25,"t":206,"v":0.2805},{"s":"R","l":0.25,"t":208,"v":0.2805},{"s":"R","l":0.25,"t":210,"v":0.2805},{"s":"R","l":0.25,"t":212,"v":0.2805},{"s":"R","l":0.25,"t":214,"v":0.2815},{"s":"R","l":0.25,"t":216,"v":0.2805},{"s":"R","l":0.25,"t":218,"v":0.2805},{"s":"R","l":0.25,"t":220,"v":0.2805},
{"s":"R","l":0.25,"t":222,"v":0.2805},{"s":"R","l":0.25,"t":224,"v":0.2805},{"s":"R","l":0.25,"t":226,"v":0.2795},{"s":"R","l":0.25,"t":228,"v":0.2805},{"s":"R","l":0.25,"t":230,"v":0.2805},{"s":"R","l":0.25,"t":232,"v":0.2805},{"s":"R","l":0.25,"t":234,"v":0.2805},{"s":"R","l":0.25,"t":236,"v":0.2805},{"s":"R","l":0.25,"t":238,"v":0.2815},{"s":"R","l":0.25,"t":240,"v":0.2805},
{"s":"R","l":0.25,"t":242,"v":0.2805},{"s":"R","l":0.25,"t":244,"v":0.2805},{"s":"R","l":0.25,"t":246,"v":0.2805},{"s":"R","l":0.25,"t":248,"v":0.2805},{"s":"R","l":0.25,"t":250,"v":0.2795},{"s":"R","l":0.25,"t":252,"v":0.2805},{"s":"R","l":0.25,"t":254,"v":0.2805},{"s":"R","l":0.25,"t":256,"v":0.2805},{"s":"R","l":0.25,"t":258,"v":0.2805},{"s":"R","l":0.25,"t":260,"v":0.2805},
{"s":"R","l":0.25,"t":262,"v":0.2815},{"s":"R","l":0.25,"t":264,"v":0.2805},{"s":"R","l":0.25,"t":266,"v":0.2805},{"s":"R","l":0.25,"t":268,"v":0.2805},{"s":"R","l":0.25,"t":270,"v":0.2805},{"s":"R","l":0.25,"t":272,"v":0.2805},{"s":"R","l":0.25,"t":274,"v":0.2805},{"s":"R","l":0.25,"t":276,"v":0.2795},{"s":"R","l":0.25,"t":278,"v":0.2805},{"s":"R","l":0.25,"t":280,"v":0.2805},
{"s":"R","l":0.25,"t":282,"v":0.2805},{"s":"R","l":0.25,"t":284,"v":0.2805},{"s":"R","l":0.25,"t":286,"v":0.2805},{"s":"R","l":0.25,"t":288,"v":0.2815},{"s":"R","l":0.25,"t":290,"v":0.2805},{"s":"R","l":0.25,"t":292,"v":0.2805},{"s":"R","l":0.25,"t":294,"v":0.2805},{"s":"R","l":0.25,"t":296,"v":0.2805},{"s":"R","l":0.25,"t":298,"v":0.2805},{"s":"R","l":0.25,"t":300,"v":0.2795},
{"s":"R","l":0.25,"t":302,"v":0.2805},{"s":"R","l":0.25,"t":304,"v":0.2805},{"s":"R","l":0.25,"t":306,"v":0.2805},{"s":"R","l":0.25,"t":308,"v":0.2805},{"s":"R","l":0.25,"t":310,"v":0.2805},{"s":"R","l":0.25,"t":312,"v":0.2815},{"s":"R","l":0.25,"t":314,"v":0.2805},{"s":"R","l":0.25,"t":316,"v":0.2805},{"s":"R","l":0.25,"t":318,"v":0.2805},{"s":"R","l":0.25,"t":320,"v":0.2805},
{"s":"R","l":0.25,"t":322,"v":0.2805},{"s":"R","l":0.25,"t":324,"v":0.2795},{"s":"R","l":0.25,"t":326,"v":0.2805},{"s":"R","l":0.25,"t":328,"v":0.2805},{"s":"R","l":0.25,"t":330,"v":0.2805},{"s":"R","l":0.25,"t":332,"v":0.2805},{"s":"R","l":0.25,"t":334,"v":0.2805},{"s":"R","l":0.25,"t":336,"v":0.2805},{"s":"R","l":0.25,"t":338,"v":0.2815},{"s":"R","l":0.25,"t":340,"v":0.2805},
{"s":"R","l":0.25,"t":342,"v":0.2805},{"s":"R","l":0.25,"t":344,"v":0.2805},{"s":"R","l":0.25,"t":346,"v":0.2805},{"s":"R","l":0.25,"t":348,"v":0.2805},{"s":"R","l":0.25,"t":350,"v":0.2795},{"s":"R","l":0.25,"t":352,"v":0.2805},{"s":"R","l":0.25,"t":354,"v":0.2805},{"s":"R","l":0.25,"t":356,"v":0.2805},{"s":"R","l":0.25,"t":358,"v":0.2805},{"s":"R","l":0.25,"t":360,"v":0.2805},
{"s":"R","l":0.25,"t":362,"v":0.2815},{"s":"R","l":0.25,"t":364,"v":0.2805},{"s":"R","l":0.25,"t":366,"v":0.2805},{"s":"R","l":0.25,"t":368,"v":0.2805},{"s":"R","l":0.25,"t":370,"v":0.2805},{"s":"R","l":0.25,"t":372,"v":0.2805},{"s":"R","l":0.25,"t":374,"v":0.2795},{"s":"R","l":0.25,"t":376,"v":0.2805},{"s":"R","l":0.25,"t":378,"v":0.2805},{"s":"R","l":0.25,"t":380,"v":0.2805},
{"s":"R","l":0.25,"t":382,"v":0.2805},{"s":"R","l":0.25,"t":384,"v":0.2805},{"s":"R","l":0.25,"t":386,"v":0.2815},{"s":"R","l":0.25,"t":388,"v":0.2805},{"s":"R","l":0.25,"t":390,"v":0.2805},{"s":"R","l":0.25,"t":392,"v":0.2805},{"s":"R","l":0.25,"t":394,"v":0.2805},{"s":"R","l":0.25,"t":396,"v":0.2795},{"s":"R","l":0.25,"t":398,"v":0.2805},{"s":"R","l":0.25,"t":400,"v":0.2805}
],
"model": [
{"k":"R45","t":0,"v":0},{"k":"R45","t":2,"v":0.02},{"k":"R45","t":4,"v":0.04},{"k":"R45","t":6,"v":0.065},{"k":"R45","t":8,"v":0.095},{"k":"R45","t":10,"v":0.13},{"k":"R45","t":12,"v":0.168},{"k":"R45","t":14,"v":0.205},{"k":"R45","t":16,"v":0.238},{"k":"R45","t":18,"v":0.263},{"k":"R45","t":20,"v":0.282},{"k":"R45","t":22,"v":0.296},{"k":"R45","t":25,"v":0.308},{"k":"R45","t":28,"v":0.315},{"k":"R45","t":32,"v":0.32},{"k":"R45","t":36,"v":0.323},{"k":"R45","t":40,"v":0.325},{"k":"R45","t":50,"v":0.3265},{"k":"R45","t":400,"v":0.3265},
{"k":"R25","t":0,"v":0},{"k":"R25","t":2,"v":0.018},{"k":"R25","t":4,"v":0.037},{"k":"R25","t":6,"v":0.06},{"k":"R25","t":8,"v":0.088},{"k":"R25","t":10,"v":0.12},{"k":"R25","t":12,"v":0.152},{"k":"R25","t":14,"v":0.183},{"k":"R25","t":16,"v":0.21},{"k":"R25","t":18,"v":0.232},{"k":"R25","t":20,"v":0.248},{"k":"R25","t":22,"v":0.26},{"k":"R25","t":25,"v":0.27},{"k":"R25","t":28,"v":0.276},{"k":"R25","t":32,"v":0.279},{"k":"R25","t":36,"v":0.281},{"k":"R25","t":40,"v":0.282},{"k":"R25","t":400,"v":0.282},
{"k":"I45","t":0,"v":0},{"k":"I45","t":1,"v":0.09},{"k":"I45","t":2,"v":0.18},{"k":"I45","t":3,"v":0.26},{"k":"I45","t":4,"v":0.31},{"k":"I45","t":5,"v":0.335},{"k":"I45","t":6,"v":0.338},{"k":"I45","t":7,"v":0.33},{"k":"I45","t":8,"v":0.315},{"k":"I45","t":9,"v":0.298},{"k":"I45","t":10,"v":0.282},{"k":"I45","t":12,"v":0.255},{"k":"I45","t":14,"v":0.235},{"k":"I45","t":16,"v":0.219},{"k":"I45","t":18,"v":0.207},{"k":"I45","t":20,"v":0.198},{"k":"I45","t":24,"v":0.186},{"k":"I45","t":28,"v":0.18},{"k":"I45","t":32,"v":0.177},{"k":"I45","t":40,"v":0.175},{"k":"I45","t":50,"v":0.174},{"k":"I45","t":400,"v":0.174},
{"k":"I25","t":0,"v":0},{"k":"I25","t":1,"v":0.085},{"k":"I25","t":2,"v":0.17},{"k":"I25","t":3,"v":0.245},{"k":"I25","t":4,"v":0.293},{"k":"I25","t":5,"v":0.317},{"k":"I25","t":6,"v":0.32},{"k":"I25","t":7,"v":0.312},{"k":"I25","t":8,"v":0.297},{"k":"I25","t":9,"v":0.28},{"k":"I25","t":10,"v":0.263},{"k":"I25","t":12,"v":0.234},{"k":"I25","t":14,"v":0.211},{"k":"I25","t":16,"v":0.194},{"k":"I25","t":18,"v":0.181},{"k":"I25","t":20,"v":0.171},{"k":"I25","t":24,"v":0.159},{"k":"I25","t":28,"v":0.152},{"k":"I25","t":32,"v":0.148},{"k":"I25","t":40,"v":0.144},{"k":"I25","t":50,"v":0.142},{"k":"I25","t":400,"v":0.142},
{"k":"Q45","t":0,"v":0},{"k":"Q45","t":2,"v":0.01},{"k":"Q45","t":4,"v":0.021},{"k":"Q45","t":6,"v":0.033},{"k":"Q45","t":8,"v":0.044},{"k":"Q45","t":10,"v":0.052},{"k":"Q45","t":12,"v":0.056},{"k":"Q45","t":14,"v":0.056},{"k":"Q45","t":16,"v":0.054},{"k":"Q45","t":18,"v":0.051},{"k":"Q45","t":20,"v":0.048},{"k":"Q45","t":24,"v":0.043},{"k":"Q45","t":28,"v":0.04},{"k":"Q45","t":32,"v":0.038},{"k":"Q45","t":40,"v":0.036},{"k":"Q45","t":50,"v":0.0345},{"k":"Q45","t":400,"v":0.0345},
{"k":"Q25","t":0,"v":0},{"k":"Q25","t":2,"v":0.009},{"k":"Q25","t":4,"v":0.018},{"k":"Q25","t":6,"v":0.028},{"k":"Q25","t":8,"v":0.036},{"k":"Q25","t":10,"v":0.042},{"k":"Q25","t":12,"v":0.045},{"k":"Q25","t":14,"v":0.045},{"k":"Q25","t":16,"v":0.043},{"k":"Q25","t":18,"v":0.041},{"k":"Q25","t":20,"v":0.039},{"k":"Q25","t":24,"v":0.036},{"k":"Q25","t":28,"v":0.033},{"k":"Q25","t":32,"v":0.031},{"k":"Q25","t":40,"v":0.0295},{"k":"Q25","t":50,"v":0.0285},{"k":"Q25","t":400,"v":0.0285}
],
"ann": [
{"t":184,"v":0.341,"lam":"λ","val":"=0.45"},
{"t":184,"v":0.296,"lam":"λ","val":"=0.25"},
{"t":184,"v":0.185,"lam":"λ","val":"=0.45"},
{"t":184,"v":0.155,"lam":"λ","val":"=0.25"},
{"t":50,"v":0.072,"lam":"λ","val":"=0.45"},
{"t":52.6,"v":0.016,"lam":"λ","val":"=0.25"}
],
"arr": [
{"id":"a","t":41,"v":0.071,"t2":16,"v2":0.053},
{"id":"b","t":41,"v":0.019,"t2":13,"v2":0.033}
]
},
"layer": [
{
 "data": {"name": "obs"},
 "mark": {"type": "point", "filled": false, "size": 15, "strokeWidth": 1.1, "opacity": 1},
 "encoding": {
  "x": {"field": "t", "type": "quantitative", "scale": {"domain": [0, 400], "nice": false, "zero": false},
        "axis": {"values": [0,50,100,150,200,250,300,350,400], "title": "time", "titleFontSize": 12, "titleFontWeight": "bold", "titlePadding": 2, "labelPadding": 5}},
  "y": {"field": "v", "type": "quantitative", "scale": {"domain": [0, 0.4], "nice": false},
        "axis": {"values": [0,0.05,0.1,0.15,0.2,0.25,0.3,0.35,0.4], "format": "~g", "title": "Average of densities", "titleFontSize": 7.5, "titleFontWeight": "normal", "titlePadding": 2, "labelPadding": 7}},
  "color": {"field": "s", "type": "nominal", "scale": {"domain": ["I","Q","R"], "range": ["#1e8c1e","#8c3a9c","#23339a"]},
        "legend": {"title": null, "orient": "none", "legendX": 257, "legendY": 6, "padding": 0, "symbolType": "circle", "symbolSize": 16, "symbolStrokeWidth": 0.9, "labelFontSize": 7, "labelFontWeight": "bold", "labelColor": "#000000", "labelOffset": 9, "rowPadding": 1}}
 }
},
{
 "data": {"name": "model"},
 "mark": {"type": "line", "color": "#ff0000", "strokeWidth": 0.9},
 "encoding": {
  "x": {"field": "t", "type": "quantitative", "axis": {"orient": "top", "labels": false, "title": null, "domain": false, "values": [0,50,100,150,200,250,300,350,400]}},
  "y": {"field": "v", "type": "quantitative", "axis": {"orient": "right", "labels": false, "title": null, "domain": false, "values": [0,0.05,0.1,0.15,0.2,0.25,0.3,0.35,0.4]}},
  "detail": {"field": "k"}
 }
},
{
 "data": {"name": "ann"},
 "mark": {"type": "text", "align": "right", "baseline": "middle", "font": "DejaVu Serif", "fontSize": 8, "color": "#000000"},
 "encoding": {
  "x": {"field": "t", "type": "quantitative", "axis": null},
  "y": {"field": "v", "type": "quantitative", "axis": null},
  "text": {"field": "lam"}
 }
},
{
 "data": {"name": "ann"},
 "mark": {"type": "text", "align": "left", "baseline": "middle", "fontSize": 7.5, "fontWeight": "bold", "color": "#000000"},
 "encoding": {
  "x": {"field": "t", "type": "quantitative", "axis": null},
  "y": {"field": "v", "type": "quantitative", "axis": null},
  "text": {"field": "val"}
 }
},
{
 "data": {"name": "arr"},
 "mark": {"type": "rule", "color": "#000000", "strokeWidth": 0.7},
 "encoding": {
  "x": {"field": "t", "type": "quantitative", "axis": null},
  "y": {"field": "v", "type": "quantitative", "axis": null},
  "x2": {"field": "t2"},
  "y2": {"field": "v2"}
 }
},
{
 "data": {"name": "arr"},
 "transform": [{"filter": "datum.id == 'a'"}],
 "mark": {"type": "point", "shape": "triangle", "filled": true, "color": "#000000", "size": 14, "angle": 245, "opacity": 1},
 "encoding": {
  "x": {"field": "t2", "type": "quantitative", "axis": null},
  "y": {"field": "v2", "type": "quantitative", "axis": null}
 }
},
{
 "data": {"name": "arr"},
 "transform": [{"filter": "datum.id == 'b'"}],
 "mark": {"type": "point", "shape": "triangle", "filled": true, "color": "#000000", "size": 14, "angle": 287, "opacity": 1},
 "encoding": {
  "x": {"field": "t2", "type": "quantitative", "axis": null},
  "y": {"field": "v2", "type": "quantitative", "axis": null}
 }
}
],
"resolve": {"axis": {"x": "independent", "y": "independent"}}
}
